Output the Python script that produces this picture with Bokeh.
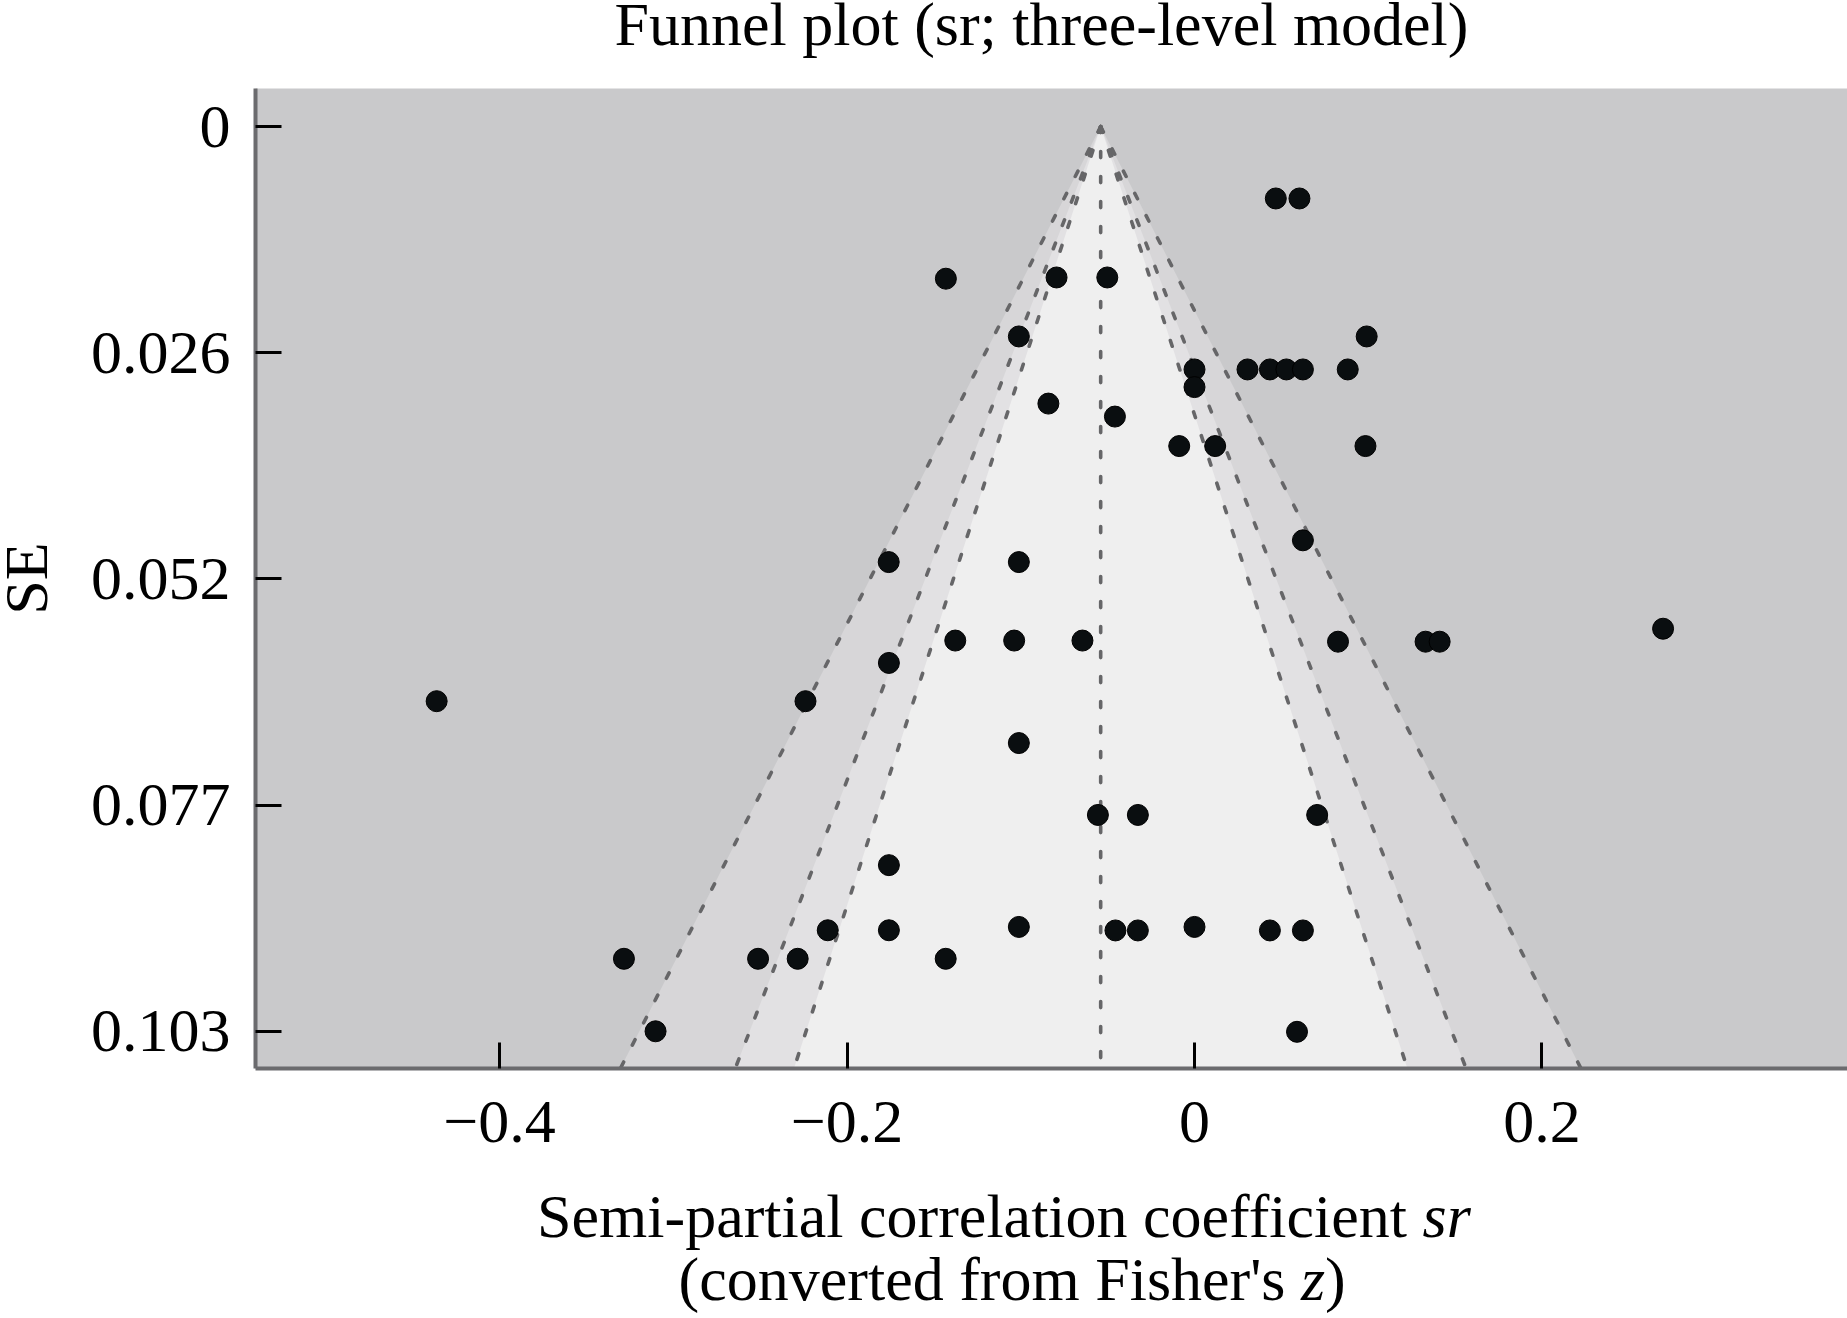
from bokeh.plotting import figure
from bokeh.layouts import row, column
from bokeh.models import Range1d, FixedTicker, ColumnDataSource, CustomJSTickFormatter
from bokeh.core.properties import value
from bokeh.embed import file_html
from bokeh.resources import INLINE

# ---------------- data ----------------
sr = [0.0468, 0.0604, -0.1431, -0.0794, -0.0502, -0.1011, 0.0991,
      0.0000, 0.0305, 0.0434, 0.0529, 0.0624, 0.0882, 0.0000,
      -0.0841, -0.0458, -0.0088, 0.0119, 0.0984, 0.0624,
      -0.1760, -0.1011, 0.2697, -0.1377, -0.1038, -0.0645,
      0.0826, 0.1330, 0.1411, -0.1759, -0.4362, -0.2239, -0.1011,
      -0.0556, -0.0326, 0.0706, -0.1759, -0.2111, -0.1759, -0.1011,
      -0.0455, -0.0326, 0.0000, 0.0434, 0.0624,
      -0.3284, -0.2512, -0.2284, -0.1432, -0.3102, 0.0590]
se = [0.00819, 0.00819, 0.01733, 0.01719, 0.01719, 0.02391, 0.02391,
      0.02767, 0.02767, 0.02767, 0.02767, 0.02767, 0.02767, 0.02968,
      0.03156, 0.03304, 0.03640, 0.03640, 0.03640, 0.04714,
      0.04962, 0.04962, 0.05721, 0.05856, 0.05856, 0.05856,
      0.05869, 0.05869, 0.05869, 0.06111, 0.06547, 0.06547, 0.07024,
      0.07843, 0.07843, 0.07843, 0.08415, 0.09157, 0.09157, 0.09119,
      0.09159, 0.09159, 0.09119, 0.09159, 0.09159,
      0.09482, 0.09482, 0.09482, 0.09482, 0.10308, 0.10314]
pooled = -0.054
z_levels = [2.576, 1.96, 1.645]          # 99 %, 95 %, 90 %
band_colors = ["#d7d6d8", "#e2e1e3", "#efefef"]
x_ticks = [-0.4, -0.2, 0.0, 0.2]
x_tick_labels = ["\u22120.4", "\u22120.2", "0", "0.2"]
se_ticks = [0.0, 0.02577, 0.05154, 0.07731, 0.10308]
se_tick_labels = ["0", "0.026", "0.052", "0.077", "0.103"]

title_text = "Funnel plot (sr; three-level model)"
xlab1 = "Semi-partial correlation coefficient"
xlab1_it = "sr"
xlab2 = "(converted from Fisher's"
xlab2_it = "z"
xlab2_end = ")"
ylab = "SE"

# ---------------- geometry (page pixels) ----------------
PAGE_W, PAGE_H = 1847, 1318
LEFT_W = 60            # strip holding the y-axis title
TOP_H = 80             # strip holding the title
MAIN_H = 1090          # main figure height
BOT_H = PAGE_H - TOP_H - MAIN_H
FRAME_L, FRAME_R, FRAME_T, FRAME_B = 255, 1847, 88, 1068
X0_PX, X_PER = 1194.0, 1737.4
Y0_PX, Y_PER = 126.1, 8776.5
BASE_FIX = 21          # renderer draws the alphabetic baseline this much lower


def xd(px):
    return (px - X0_PX) / X_PER


def yd(px):
    return (px - Y0_PX) / Y_PER


FONT = "Liberation Serif"
FS = "62px"

main_w = PAGE_W - LEFT_W
BL = FRAME_L - LEFT_W
p = figure(width=main_w, height=MAIN_H, output_backend="svg", toolbar_location=None,
           title=None,
           x_range=Range1d(xd(FRAME_L), xd(FRAME_R)),
           y_range=Range1d(yd(FRAME_B), yd(FRAME_T)),
           min_border_left=BL, min_border_right=0,
           min_border_top=FRAME_T - TOP_H,
           min_border_bottom=(TOP_H + MAIN_H) - FRAME_B)
p.background_fill_color = "#c9c9cb"
p.border_fill_color = "white"
p.outline_line_color = None
p.grid.visible = False

ymax = yd(FRAME_B)

# funnel shading
for z, col in zip(z_levels, band_colors):
    p.patch([pooled - z * ymax, pooled, pooled + z * ymax], [ymax, 0, ymax],
            fill_color=col, line_color=None)

# dashed funnel lines
DASH = dict(line_color="#666668", line_width=3.6, line_dash="6 19", line_cap="round")
for z in z_levels:
    p.segment(x0=[pooled, pooled], y0=[0, 0],
              x1=[pooled - z * ymax, pooled + z * ymax], y1=[ymax, ymax], **DASH)
p.segment(x0=[pooled], y0=[0], x1=[pooled], y1=[ymax], **DASH)

src = ColumnDataSource(dict(sr=sr, se=se))
p.scatter("sr", "se", source=src, marker="circle", size=21,
          fill_color="#0a0e10", line_color="#000000", line_width=1)


def fmt(ticks, labels):
    return CustomJSTickFormatter(args=dict(t=ticks, l=labels), code="""
        let best = 0, d = Infinity;
        for (let i = 0; i < t.length; i++) {
            const e = Math.abs(t[i] - tick);
            if (e < d) { d = e; best = i; }
        }
        return l[best];
    """)


xa = p.xaxis[0]
ya = p.yaxis[0]
xa.ticker = FixedTicker(ticks=x_ticks)
ya.ticker = FixedTicker(ticks=se_ticks)
xa.formatter = fmt(x_ticks, x_tick_labels)
ya.formatter = fmt(se_ticks, se_tick_labels)
for ax in (xa, ya):
    ax.minor_tick_line_color = None
    ax.major_tick_in = 26
    ax.major_tick_out = 0
    ax.major_tick_line_color = "black"
    ax.major_tick_line_width = 3
    ax.axis_line_color = "#6b6b6e"
    ax.axis_line_width = 4
    ax.major_label_text_font = FONT
    ax.major_label_text_font_size = FS
    ax.major_label_text_color = "black"
xa.major_label_standoff = 33
ya.major_label_standoff = 25


# ---------------- text strips (page-pixel coordinates, y downwards) ----------------
def strip(w, h, x0, x1, y0, y1, bl=0):
    f = figure(width=w, height=h, output_backend="svg", toolbar_location=None,
               title=None, x_axis_location=None, y_axis_location=None,
               x_range=Range1d(x0, x1), y_range=Range1d(y1, y0),
               min_border=0, min_border_left=bl, min_border_right=0,
               min_border_top=0, min_border_bottom=0)
    f.grid.visible = False
    f.outline_line_color = None
    f.background_fill_color = "white"
    f.border_fill_color = "white"
    return f


def txt(f, x, y, s, align="left", style="normal", angle=0.0):
    f.text(x=[x], y=[y], text=[s], text_font=value(FONT), text_font_size=value(FS),
           text_font_style=value(style), text_color="black", text_align=value(align),
           text_baseline=value("alphabetic"), angle=angle)


top = strip(main_w, TOP_H, FRAME_L, FRAME_R, 0, TOP_H, bl=BL)
txt(top, 1041, 44 - BASE_FIX, title_text, align="center")

bot = strip(main_w, BOT_H, FRAME_L, FRAME_R, TOP_H + MAIN_H, PAGE_H, bl=BL)
y1 = 1236 - BASE_FIX
y2 = 1299 - BASE_FIX
txt(bot, 1406.5, y1, xlab1, align="right")
txt(bot, 1422, y1, xlab1_it, align="left", style="italic")
txt(bot, 1285, y2, xlab2, align="right")
txt(bot, 1300.5, y2, xlab2_it, align="left", style="italic")
txt(bot, 1324.5, y2, xlab2_end, align="left")

left = strip(LEFT_W, PAGE_H, 0, LEFT_W, 0, PAGE_H)
txt(left, 46 - BASE_FIX, 578, ylab, align="center", angle=1.5707963)

layout = row(left, column(top, p, bot, spacing=0), spacing=0)
open("out.html", "w").write(file_html(layout, INLINE))
